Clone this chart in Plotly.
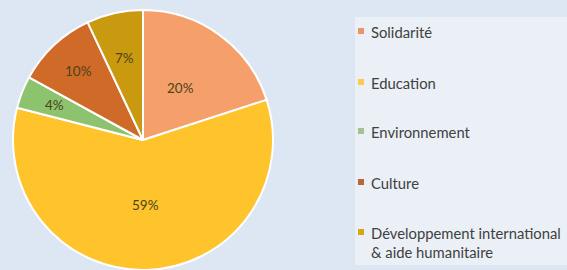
import math
import plotly.graph_objects as go

categories = ["Solidarité", "Education", "Environnement", "Culture",
              "Développement international<br>& aide humanitaire"]
values = [20, 59, 4, 10, 7]
colors = ["#f5a06a", "#ffc42c", "#8dc26e", "#d06a28", "#c99a10"]
legend_colors = ["#e8956a", "#ffc94d", "#a3c293", "#b8663a", "#d4a810"]
label_radius = [0.49, 0.50, 0.73, 0.73, 0.65]  # label distance as fraction of radius

W, H = 567, 270
CX, CY, R = 143, 140, 130  # pie center / radius in pixels

fig = go.Figure()
fig.add_trace(go.Pie(
    labels=categories, values=values, sort=False, direction="clockwise",
    rotation=0, marker=dict(colors=colors, line=dict(color="#ffffff", width=2)),
    textinfo="none", showlegend=False, hoverinfo="label+percent",
    domain=dict(x=[(CX - R) / W, (CX + R) / W], y=[1 - (CY + R) / H, 1 - (CY - R) / H]),
))

annotations = []
total = sum(values)
cum = 0
for v, lr in zip(values, label_radius):
    mid = (cum + v / 2) / total * 2 * math.pi
    cum += v
    px = CX + lr * R * math.sin(mid)
    py = CY - lr * R * math.cos(mid)
    annotations.append(dict(xref="paper", yref="paper", x=px / W, y=1 - py / H,
                            xanchor="center", yanchor="middle", showarrow=False,
                            text=f"{round(v / total * 100)}%",
                            font=dict(family="Lato", size=13.5, color="#4b4318")))

shapes = [dict(type="rect", xref="paper", yref="paper",
               x0=355 / W, x1=1.0, y0=1 - 265 / H, y1=1 - 17 / H,
               fillcolor="#ebf0f7", line=dict(width=0), layer="below")]
ys = [31, 82, 131, 182, 232]
for i, (name, col) in enumerate(zip(categories, legend_colors)):
    yc = ys[i]
    shapes.append(dict(type="rect", xref="paper", yref="paper",
                       x0=358 / W, x1=364 / W, y0=1 - (yc + 3) / H, y1=1 - (yc - 3) / H,
                       fillcolor=col, line=dict(width=0)))
    annotations.append(dict(xref="paper", yref="paper", x=369 / W, y=1 - (yc - 10) / H,
                            xanchor="left", yanchor="top", align="left",
                            text=name, showarrow=False,
                            font=dict(family="Lato", size=14.8, color="#404040")))

fig.update_layout(
    width=W, height=H, margin=dict(l=0, r=0, t=0, b=0),
    paper_bgcolor="#dde7f3", plot_bgcolor="#dde7f3",
    shapes=shapes, annotations=annotations,
)
fig.write_html("out.html", config={"displayModeBar": False},
               post_script="document.body.style.margin='0';")
